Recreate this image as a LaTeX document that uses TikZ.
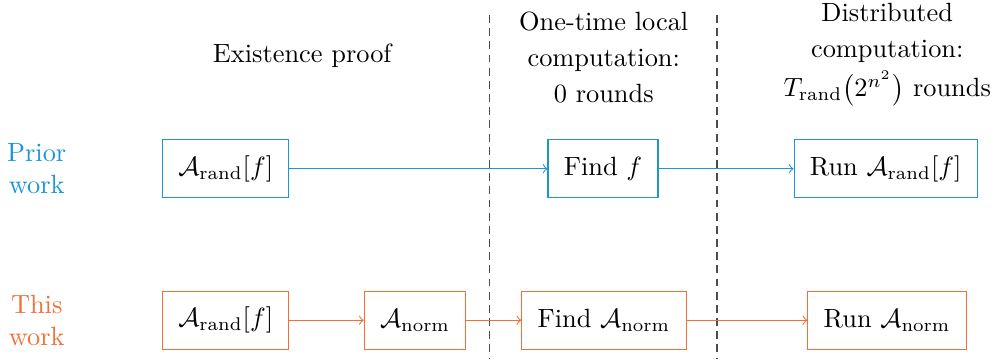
\documentclass[tikz,border=0pt]{standalone}
\usepackage{amsmath}
\usetikzlibrary{positioning}
\usetikzlibrary{arrows}
\definecolor{priorblue}{RGB}{27,150,210}
\definecolor{thisorange}{RGB}{242,112,56}
\tikzstyle{stage} = [rectangle, draw, fill=white, inner xsep=6pt,
minimum height=0.77cm, font=\fontsize{10}{12}\selectfont]
\tikzstyle{prior} = [stage, draw=priorblue]
\tikzstyle{ours} = [stage, draw=thisorange]
\tikzstyle{rowlabel} = [align=center, font=\fontsize{10}{12}\selectfont]
\tikzstyle{header} = [align=center, font=\fontsize{10}{12}\selectfont]
\tikzstyle{divider} = [black!70, dash pattern=on 3pt off 2pt]
\tikzset{>=to}
\newcommand{\flow}[3][]{ %
  % Connect all nodes #2 to all nodes #3.
  \foreach \x in {#2} { %
    \foreach \y in {#3} { %
      \path (\x) edge [->,#1] (\y) ;%
    } ;
  } ;
}

\begin{document}
\begin{tikzpicture}
  \useasboundingbox (0,0) rectangle (13.28,-4.787);

  % column headers
  \node[header] (hexist) at (4.03,-0.75) {Existence proof};
  \node[header] (hlocal) at (8.05,-0.77) {One-time local\\[1.5pt] computation:\\[2pt] 0 rounds};
  \node[header] (hdist) at (11.83,-0.73) {Distributed\\[1.5pt] computation:\\[3pt] $T_{\text{rand}}\bigl(2^{n^2}\bigr)$ rounds};

  % dividers
  \coordinate (d1top) at (6.53,-0.2);
  \coordinate (d1bot) at (6.53,-4.787);
  \coordinate (d2top) at (9.56,-0.2);
  \coordinate (d2bot) at (9.56,-4.787);
  \draw[divider] (d1top) -- (d1bot);
  \draw[divider] (d2top) -- (d2bot);

  % prior work
  \node[rowlabel, text=priorblue] (lprior) at (0.49,-2.25) {Prior\\work};
  \node[prior] (p1) at (3.01,-2.25) {$\mathcal{A}_{\text{rand}}[f]$};
  \node[prior, right=3.44cm of p1] (p2) {Find $f$};
  \node[prior, right=1.8cm of p2] (p3) {Run $\mathcal{A}_{\text{rand}}[f]$};

  % this work
  \node[rowlabel, text=thisorange] (lthis) at (0.49,-4.27) {This\\work};
  \node[ours] (t1) at (3.01,-4.27) {$\mathcal{A}_{\text{rand}}[f]$};
  \node[ours, right=0.99cm of t1] (t2) {$\mathcal{A}_{\text{norm}}$};
  \node[ours, right=0.73cm of t2] (t3) {Find $\mathcal{A}_{\text{norm}}$};
  \node[ours, right=1.61cm of t3] (t4) {Run $\mathcal{A}_{\text{norm}}$};

  \flow[priorblue] {p1} {p2};
  \flow[priorblue] {p2} {p3};
  \flow[thisorange] {t1} {t2};
  \flow[thisorange] {t2} {t3};
  \flow[thisorange] {t3} {t4};
\end{tikzpicture}
\end{document}
